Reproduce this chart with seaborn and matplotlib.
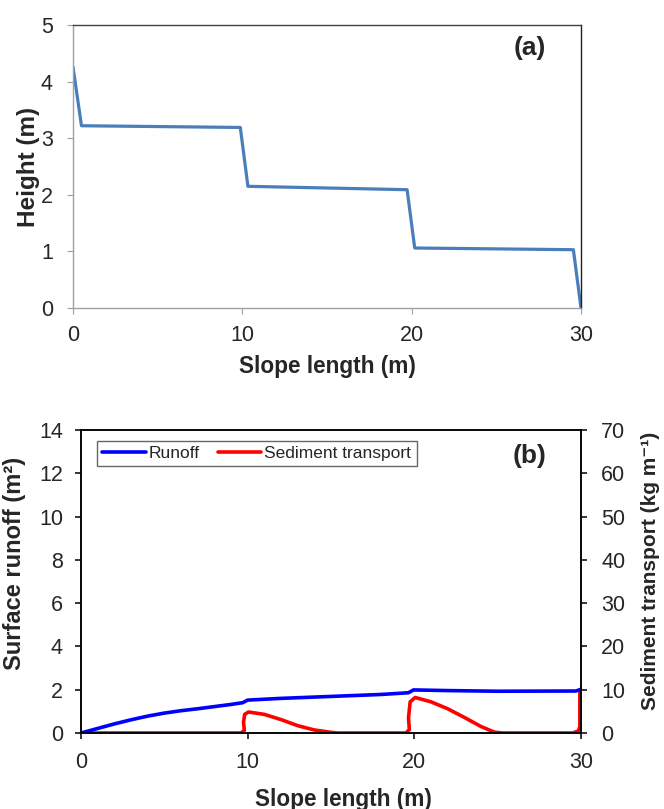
import numpy as np
import pandas as pd
import seaborn as sns
from matplotlib import pyplot as plt

# panel (a): slope profile
slope_x = [0, 0.5, 9.88, 10.33, 19.73, 20.18, 29.55, 30]
slope_h = [4.26, 3.22, 3.19, 2.15, 2.09, 1.06, 1.03, 0]

# panel (b): runoff along the slope (m2)
runoff_x = [0, 1, 2, 3, 4, 5, 6, 7, 8, 9, 9.7, 10.0, 12, 15, 18, 19.65, 19.95, 22, 25, 29.7, 30]
runoff_y = [0, 0.21, 0.42, 0.61, 0.78, 0.92, 1.03, 1.12, 1.22, 1.32, 1.4, 1.52, 1.6, 1.69, 1.78, 1.86, 1.99, 1.96, 1.93, 1.94, 2.02]

# sediment transport (kg m-1)
sed_x = [0, 9.6, 9.8, 9.75, 9.82, 10.05, 11, 12, 13, 14, 15, 15.4,
         19.5, 19.7, 19.65, 19.75, 20.05, 21, 22, 23, 24, 24.8, 25.3,
         29.5, 29.85, 29.93, 29.93]
sed_y = [0, 0, 0.6, 2.5, 4.3, 4.85, 4.3, 3.1, 1.7, 0.7, 0.15, 0,
         0, 0.8, 3.5, 7.2, 8.2, 7.2, 5.6, 3.6, 1.5, 0.2, 0,
         0, 0.5, 1.5, 9.3]

sns.set_style('white')
plt.rcParams['font.family'] = ['Liberation Sans', 'DejaVu Sans']

fig = plt.figure(figsize=(6.64, 8.09), dpi=100)
W, H = 664, 809
ax1 = fig.add_axes([73 / W, 1 - 308 / H, 508 / W, 283 / H])
ax2 = fig.add_axes([81 / W, 1 - 733 / H, 500 / W, 303 / H])

# ---- (a)
df_a = pd.DataFrame({'x': slope_x, 'h': slope_h})
sns.lineplot(data=df_a, x='x', y='h', ax=ax1, color='#4a7ebb', linewidth=2.3,
             estimator=None, sort=False)
ax1.set_xlim(0, 30)
ax1.set_ylim(0, 5)
ax1.set_xticks([0, 10, 20, 30])
ax1.set_yticks(range(6))
for s in ax1.spines.values():
    s.set_color('#a0a0a0')
    s.set_linewidth(1.0)
ax1.spines['top'].set_color('#404040')
ax1.spines['right'].set_color('#202020')
ax1.tick_params(axis='both', direction='out', length=4.5, color='#a0a0a0',
                labelsize=15.5, left=True, bottom=True)
ax1.tick_params(axis='y', pad=10)
ax1.tick_params(axis='x', pad=8)
ax1.set_xlabel('Slope length (m)', fontsize=16.3, fontweight='bold', va='center')
ax1.set_ylabel('Height (m)', fontsize=17.5, fontweight='bold', va='center')
ax1.xaxis.set_label_coords(0.5, -0.205)
ax1.yaxis.set_label_coords(-0.088, 0.5)
ax1.text(530, H - 48, '(a)', transform=None, ha='center', va='center',
         fontsize=19, fontweight='bold')

# ---- (b)
df_r = pd.DataFrame({'x': runoff_x, 'y': runoff_y})
df_s = pd.DataFrame({'x': sed_x, 'y': sed_y})
ax3 = ax2.twinx()
sns.lineplot(data=df_r, x='x', y='y', ax=ax2, color='#0000ff', linewidth=2.6,
             estimator=None, sort=False, legend=False)
sns.lineplot(data=df_s, x='x', y='y', ax=ax3, color='#ff0000', linewidth=2.6,
             estimator=None, sort=False, legend=False)
ax3.set_zorder(ax2.get_zorder() - 1)
ax2.patch.set_visible(False)
ax2.set_xlim(0, 30)
ax2.set_ylim(0, 14)
ax3.set_ylim(0, 70)
ax2.set_xticks([0, 10, 20, 30])
ax2.set_yticks(range(0, 15, 2))
ax3.set_yticks(range(0, 71, 10))
for a in (ax2, ax3):
    for s in a.spines.values():
        s.set_color('black')
        s.set_linewidth(1.1)
    a.tick_params(axis='both', direction='out', length=4.5, width=1.1, color='black',
                  labelsize=15.5)
ax2.tick_params(left=True, bottom=True)
ax2.tick_params(axis='y', pad=8.5)
ax2.tick_params(axis='x', pad=9)
ax3.tick_params(right=True, pad=10)
ax2.set_xlabel('Slope length (m)', fontsize=16.3, fontweight='bold', va='center')
ax2.set_ylabel('Surface runoff (m²)', fontsize=17, fontweight='bold', va='center')
ax3.set_ylabel('Sediment transport (kg m⁻¹)', fontsize=15, fontweight='bold',
               va='center')
ax2.xaxis.set_label_coords(0.524, -0.218)
ax2.yaxis.set_label_coords(-0.132, 0.56)
ax3.yaxis.set_label_coords(1.138, 0.535)
ax2.text(530, H - 456, '(b)', transform=None, ha='center', va='center',
         fontsize=19, fontweight='bold')

h_r = plt.Line2D([], [], color='#0000ff', linewidth=2.6)
h_s = plt.Line2D([], [], color='#ff0000', linewidth=2.6)
leg = ax2.legend([h_r, h_s], ['Runoff', 'Sediment transport'], loc='upper left',
                 ncol=2, fontsize=12.5, frameon=True, fancybox=False, handlelength=2.5,
                 handletextpad=0.2, columnspacing=1.0, borderpad=0.3,
                 borderaxespad=0, bbox_to_anchor=(0.032, 0.965))
leg.get_frame().set_edgecolor('#404040')
leg.get_frame().set_linewidth(1.0)

fig.savefig('out.png', dpi=100)
